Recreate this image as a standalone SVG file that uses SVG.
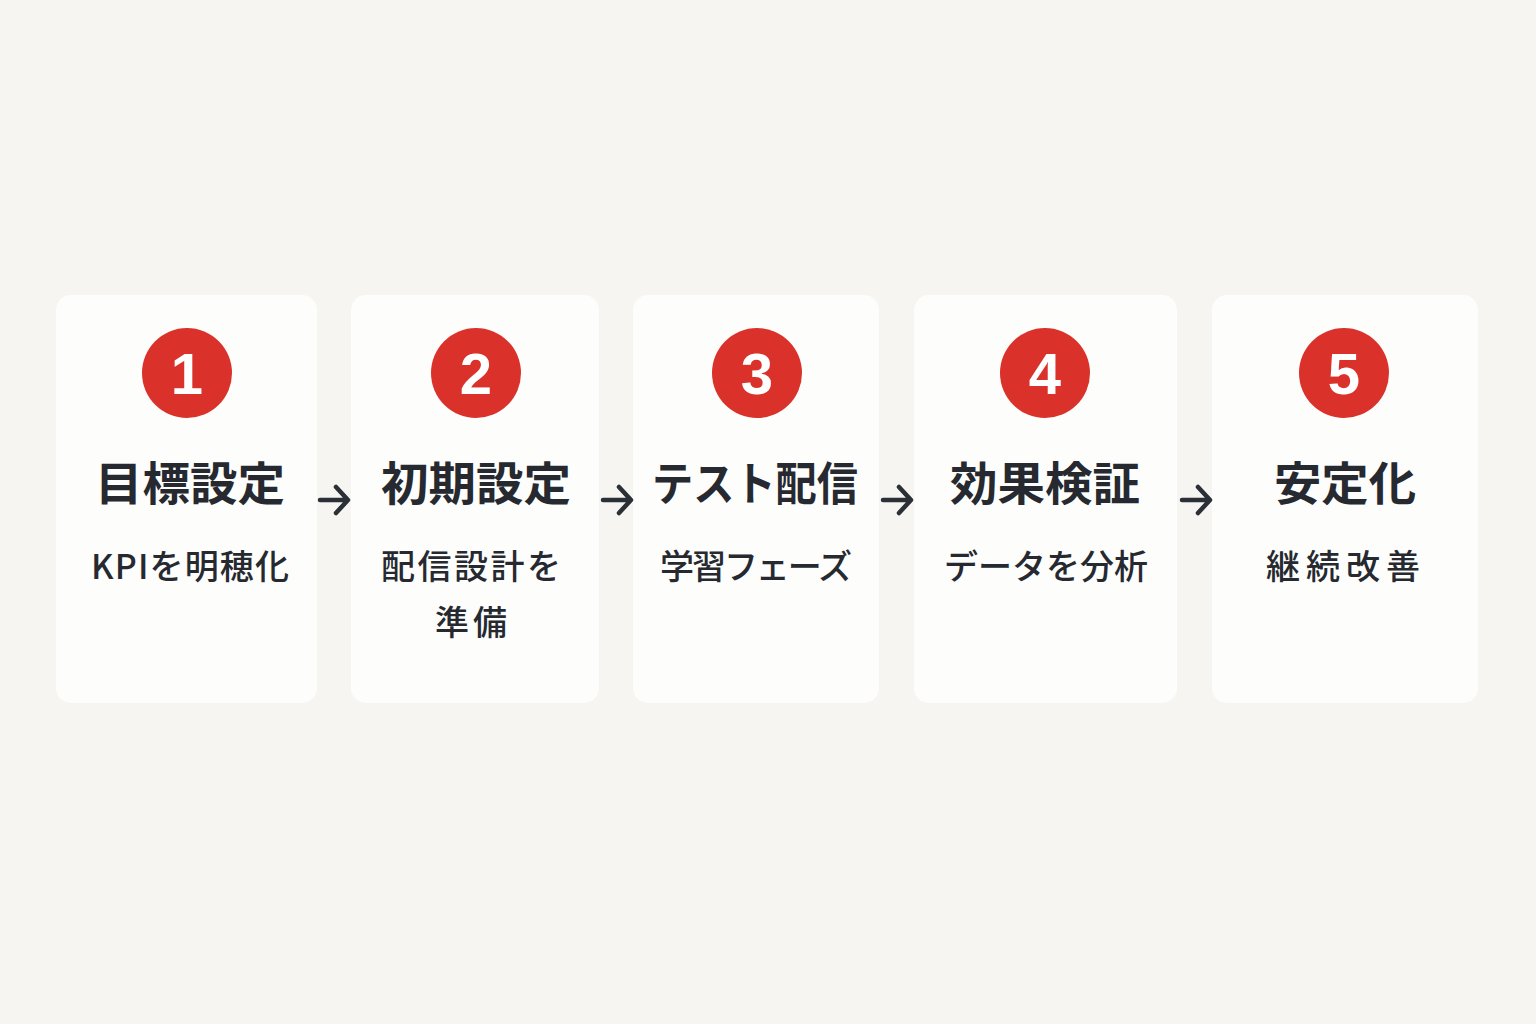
<svg xmlns="http://www.w3.org/2000/svg" width="1536" height="1024" viewBox="0 0 1536 1024">
<defs>
<style>
.card{fill:#FDFDFC;}
.badge{fill:#DA322A;}
.num{font-family:"Liberation Sans",Arial,sans-serif;font-weight:bold;font-size:58px;fill:#FFFFFF;text-anchor:middle;}
.title{font-family:"Noto Sans CJK JP","Noto Sans",sans-serif;font-weight:bold;font-size:46px;fill:#262A30;text-anchor:middle;}
.sub{font-family:"Noto Sans CJK JP","Noto Sans",sans-serif;font-weight:500;font-size:34px;fill:#262A30;text-anchor:middle;}
.conn{fill:none;stroke:#2B2F36;stroke-width:4.5;stroke-linecap:round;stroke-linejoin:round;}
</style>
</defs>
<rect width="1536" height="1024" fill="#F6F5F2"/>
<g id="step1">
<rect class="card" x="56" y="295" width="261" height="408" rx="15"/>
<circle class="badge" cx="187" cy="373" r="45"/>
<text class="num" x="187" y="394">1</text>
<text class="title" x="190" y="500" textLength="190" lengthAdjust="spacingAndGlyphs">目標設定</text>
<text class="sub" x="190" y="579" textLength="198" lengthAdjust="spacing">KPIを明穂化</text>
</g>
<g id="step2">
<rect class="card" x="351" y="295" width="248" height="408" rx="15"/>
<circle class="badge" cx="476" cy="373" r="45"/>
<text class="num" x="476" y="394">2</text>
<text class="title" x="476" y="500" textLength="190" lengthAdjust="spacingAndGlyphs">初期設定</text>
<text class="sub" x="471" y="579" textLength="180" lengthAdjust="spacing">配信設計を</text>
<text class="sub" x="471" y="635" textLength="72" lengthAdjust="spacing">準備</text>
</g>
<g id="step3">
<rect class="card" x="633" y="295" width="246" height="408" rx="15"/>
<circle class="badge" cx="757" cy="373" r="45"/>
<text class="num" x="757" y="394">3</text>
<text class="title" x="755" y="500" textLength="206" lengthAdjust="spacingAndGlyphs">テスト配信</text>
<text class="sub" x="756" y="579" textLength="192" lengthAdjust="spacing">学習フェーズ</text>
</g>
<g id="step4">
<rect class="card" x="914" y="295" width="263" height="408" rx="15"/>
<circle class="badge" cx="1045" cy="373" r="45"/>
<text class="num" x="1045" y="394">4</text>
<text class="title" x="1045" y="500" textLength="190" lengthAdjust="spacingAndGlyphs">効果検証</text>
<text class="sub" x="1046" y="579" textLength="204" lengthAdjust="spacing">データを分析</text>
</g>
<g id="step5">
<rect class="card" x="1212" y="295" width="266" height="408" rx="15"/>
<circle class="badge" cx="1344" cy="373" r="45"/>
<text class="num" x="1344" y="394">5</text>
<text class="title" x="1345" y="500" textLength="142" lengthAdjust="spacingAndGlyphs">安定化</text>
<text class="sub" x="1343" y="579" textLength="154" lengthAdjust="spacing">継続改善</text>
</g>
<g id="connectors">
<path class="conn" d="M320 500 H347 M336 487 L348 500 L336 513"/>
<path class="conn" d="M603 500 H630 M619 487 L631 500 L619 513"/>
<path class="conn" d="M883 500 H910 M899 487 L911 500 L899 513"/>
<path class="conn" d="M1182 500 H1209 M1198 487 L1210 500 L1198 513"/>
</g>
</svg>
